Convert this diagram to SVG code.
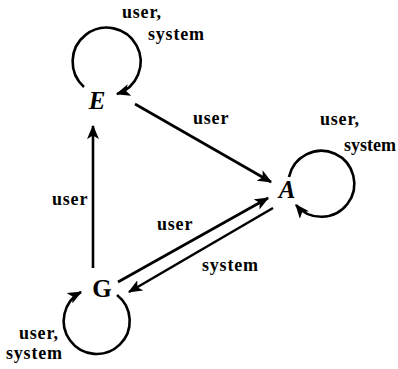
<svg xmlns="http://www.w3.org/2000/svg" width="398" height="369" viewBox="0 0 398 369">
<style>
.lbl{font-family:"Liberation Serif","Times New Roman",serif;font-weight:bold;font-size:18px;letter-spacing:0.8px;fill:#000}
.tight{letter-spacing:0}
.node{font-family:"Liberation Serif","Times New Roman",serif;font-weight:bold;font-size:25px;fill:#000;text-anchor:middle}
.it{font-style:italic}
.edge{fill:none;stroke:#000;stroke-width:2.6;marker-end:url(#ah)}
</style>
<defs>
<marker id="ah" viewBox="0 0 12 10" refX="11" refY="5" markerWidth="5.5" markerHeight="4.6" orient="auto" markerUnits="strokeWidth">
<path d="M0,0 L12,5 L0,10 L3,5 z" fill="#000"/>
</marker>
</defs>
<rect width="398" height="369" fill="#fff"/>
<g id="connectors">
<path class="edge" d="M84,87 A34,34 0 1 1 117,94"/>
<path class="edge" d="M289,177 A33,33 0 1 1 296,205"/>
<path class="edge" d="M117,295 A33,33 0 1 1 81,292"/>
<path class="edge" d="M135,104 L271,182"/>
<path class="edge" d="M93,268 L93,126"/>
<path class="edge" d="M118,282 L268,198"/>
<path class="edge" d="M273,208 L129,292"/>
</g>
<g id="labels">
<text class="lbl" x="122" y="18">user,</text>
<text class="lbl" x="148" y="40">system</text>
<text class="lbl" x="193" y="124">user</text>
<text class="lbl" x="320" y="125">user,</text>
<text class="lbl tight" x="344" y="151">system</text>
<text class="lbl" x="52" y="205">user</text>
<text class="lbl" x="157" y="230">user</text>
<text class="lbl" x="202" y="271">system</text>
<text class="lbl" x="19" y="339">user,</text>
<text class="lbl" x="6" y="359">system</text>
</g>
<g id="node-E"><text class="node it" x="97" y="109">E</text></g>
<g id="node-A"><text class="node it" x="287" y="198">A</text></g>
<g id="node-G"><text class="node" x="102" y="297">G</text></g>
</svg>
